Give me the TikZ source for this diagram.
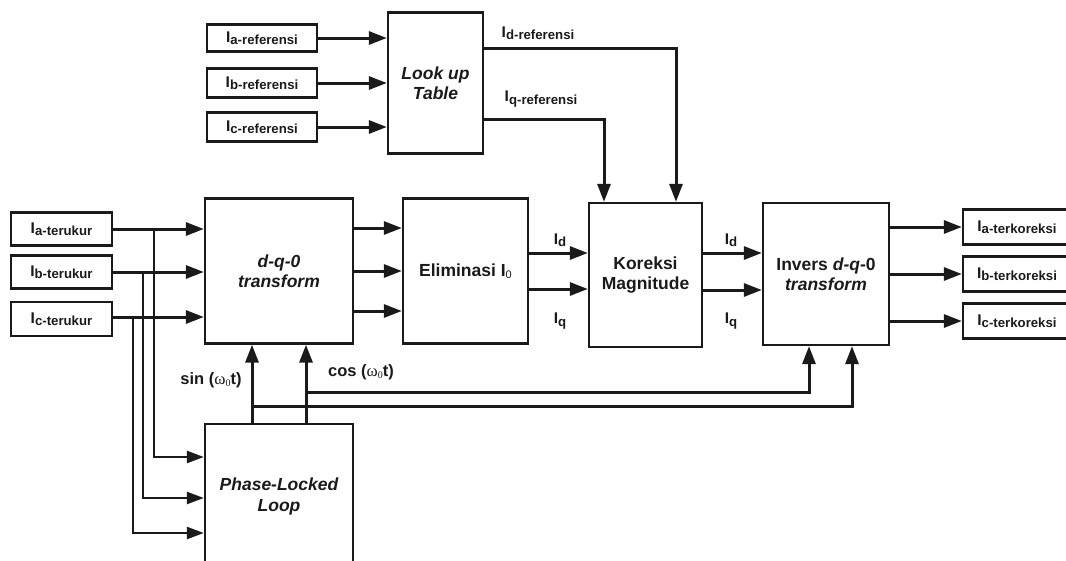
\documentclass[tikz,border=0pt]{standalone}
\usepackage{fontspec}
\setmainfont{Liberation Sans}
\newfontfamily\symfont{Liberation Serif}
\usetikzlibrary{arrows.meta,calc}
\definecolor{ink}{HTML}{1A1A1A}
\newcommand{\Isb}[1]{\fontsize{15.5}{18}\selectfont I\raisebox{-2.5pt}{\fontsize{13.2}{14}\selectfont #1}}
\newcommand{\omz}{{\symfont\mdseries\fontsize{17}{18}\selectfont ω\raisebox{-2pt}{\fontsize{10}{11}\selectfont 0}}}
\begin{document}
\begin{tikzpicture}[x=1pt,y=-1pt,
  blk/.style={draw=ink, line width=2.3pt, text=ink, font=\bfseries\fontsize{17.5}{20.5}\selectfont, align=center, inner sep=0pt},
  sbox/.style={draw=ink, line width=2.3pt, text=ink, font=\bfseries, inner sep=0pt, minimum height=31pt},
  lbl/.style={text=ink, font=\bfseries, inner sep=0pt},
  arr/.style={draw=ink, line width=3pt, -{Triangle[length=18pt,width=13pt]}},
  thinarr/.style={draw=ink, line width=2.4pt, -{Triangle[length=17pt,width=12pt]}}]
\useasboundingbox (0,0) rectangle (1066,560);
\clip (0,0) rectangle (1066,560);

% reference inputs
\node[sbox, minimum width=110pt, minimum height=27pt] (iaref) at (262,38) {\Isb{a-referensi}};
\node[sbox, minimum width=110pt, minimum height=29pt] (ibref) at (262,83) {\Isb{b-referensi}};
\node[sbox, minimum width=110pt, minimum height=29pt] (icref) at (262,127) {\Isb{c-referensi}};
\node[blk, minimum width=95pt, minimum height=141pt] (lut) at (435.5,83) {\itshape Look up\\\itshape Table};

% measured inputs
\node[sbox, minimum width=101pt, minimum height=33pt] (iat) at (61.5,229) {\Isb{a-terukur}};
\node[sbox, minimum width=101pt, minimum height=33pt] (ibt) at (61.5,272) {\Isb{b-terukur}};
\node[sbox, minimum width=101pt, minimum height=34pt] (ict) at (61.5,319) {\Isb{c-terukur}};

% main blocks
\node[blk, minimum width=148pt, minimum height=145pt] (dq0) at (279,271) {\itshape d-q-0\\\itshape transform};
\node[blk, minimum width=125pt, minimum height=145pt] (elim) at (465.5,271) {Eliminasi I\raisebox{-2pt}{\mdseries\fontsize{11}{12}\selectfont 0}};
\node[blk, minimum width=113pt, minimum height=144pt] (kor) at (645.5,275) {Koreksi\\Magnitude};
\node[blk, minimum width=126pt, minimum height=142pt] (inv) at (826,274) {Invers \textit{d-q}-0\\\itshape transform};
\node[blk, minimum width=148pt, minimum height=145pt] (pll) at (279,496.5) {\itshape Phase-Locked\\\itshape Loop};

% corrected outputs
\node[sbox, minimum width=108pt, minimum height=35pt] (iac) at (1017,227) {\Isb{a-terkoreksi}};
\node[sbox, minimum width=108pt, minimum height=35pt] (ibc) at (1017,274) {\Isb{b-terkoreksi}};
\node[sbox, minimum width=108pt, minimum height=35pt] (icc) at (1017,321) {\Isb{c-terkoreksi}};

% labels
\node[lbl] (lidref) at (538,33) {\Isb{d-referensi}};
\node[lbl] (liqref) at (541,99) {\Isb{q-referensi}};
\node[lbl] (lid1) at (560,240) {\Isb{d}};
\node[lbl] (liq1) at (560,321) {\Isb{q}};
\node[lbl] (lid2) at (731,240) {\Isb{d}};
\node[lbl] (liq2) at (731,321) {\Isb{q}};
\node[lbl] (lsin) at (211,380) {\fontsize{16.5}{18}\selectfont sin (\omz t)};
\node[lbl] (lcos) at (361,372) {\fontsize{16.5}{18}\selectfont cos (\omz t)};

% reference -> lookup table
\draw[arr] (iaref.east) -- (iaref.east -| lut.west);
\draw[arr] (ibref.east) -- (ibref.east -| lut.west);
\draw[arr] (icref.east) -- (icref.east -| lut.west);

% lookup table -> koreksi
\draw[arr] ([yshift=35pt]lut.east) -| ([xshift=30.5pt]kor.north);
\draw[arr] ([yshift=-36pt]lut.east) -| ([xshift=-41.5pt]kor.north);

% measured -> dq0
\draw[arr] (iat.east) -- (iat.east -| dq0.west);
\draw[arr] (ibt.east) -- (ibt.east -| dq0.west);
\draw[arr] ([yshift=2pt]ict.east) -- ([yshift=2pt]ict.east -| dq0.west);

% branches -> PLL
\coordinate (ba) at (154,229);
\coordinate (bb) at (143,272);
\coordinate (bc) at (133,317);
\draw[thinarr] (ba) |- ([yshift=39.5pt]pll.west);
\draw[thinarr] (bb) |- ([yshift=-1.5pt]pll.west);
\draw[thinarr] (bc) |- ([yshift=-36.5pt]pll.west);

% dq0 -> eliminasi
\draw[arr] ([yshift=43pt]dq0.east) -- ([yshift=43pt]dq0.east -| elim.west);
\draw[arr] (dq0.east) -- (dq0.east -| elim.west);
\draw[arr] ([yshift=-40pt]dq0.east) -- ([yshift=-40pt]dq0.east -| elim.west);

% eliminasi -> koreksi
\draw[arr] ([yshift=18pt]elim.east) -- ([yshift=18pt]elim.east -| kor.west);
\draw[arr] ([yshift=-18pt]elim.east) -- ([yshift=-18pt]elim.east -| kor.west);

% koreksi -> invers
\draw[arr] ([yshift=22pt]kor.east) -- ([yshift=22pt]kor.east -| inv.west);
\draw[arr] ([yshift=-15pt]kor.east) -- ([yshift=-15pt]kor.east -| inv.west);

% invers -> outputs
\draw[arr] (inv.east |- iac.west) -- (iac.west);
\draw[arr] (inv.east |- ibc.west) -- (ibc.west);
\draw[arr] (inv.east |- icc.west) -- (icc.west);

% PLL -> dq0 and invers
\draw[arr] ([xshift=-27pt]pll.north) -- ([xshift=-27pt]dq0.south);
\draw[arr] ([xshift=27pt]pll.north) -- ([xshift=27pt]dq0.south);
\coordinate (sj) at ($([xshift=-27pt]pll.north)+(0,-16.5)$);
\coordinate (cj) at ($([xshift=27pt]pll.north)+(0,-30.5)$);
\draw[arr] (sj) -| ([xshift=26pt]inv.south);
\draw[arr] (cj) -| ([xshift=-17pt]inv.south);
\end{tikzpicture}
\end{document}
